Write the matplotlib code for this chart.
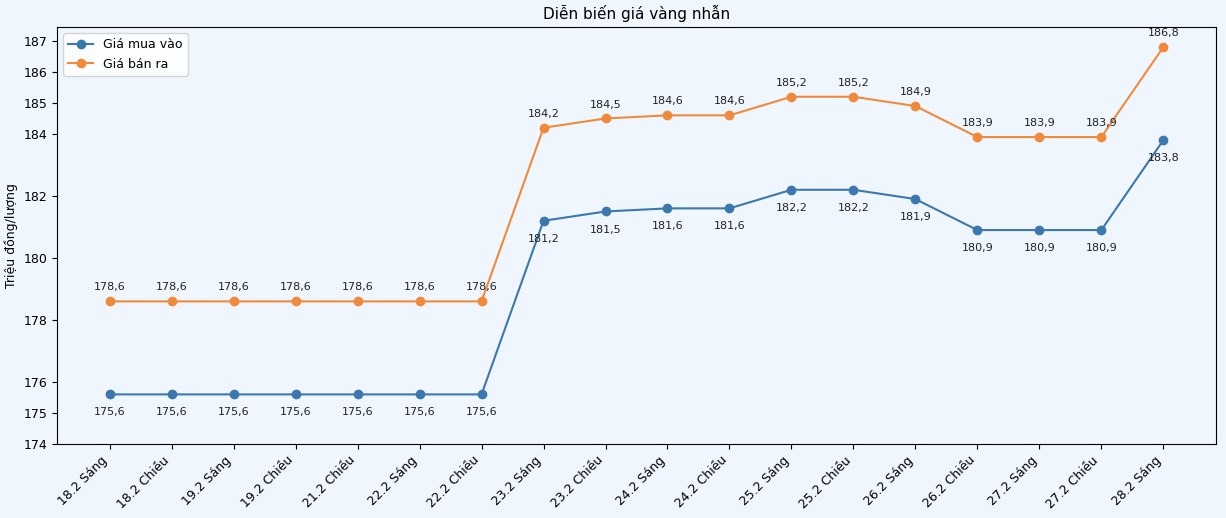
import matplotlib
matplotlib.use("Agg")
import matplotlib.pyplot as plt

categories = ["18.2 Sáng", "18.2 Chiều", "19.2 Sáng", "19.2 Chiều", "21.2 Chiều",
              "22.2 Sáng", "22.2 Chiều", "23.2 Sáng", "23.2 Chiều", "24.2 Sáng",
              "24.2 Chiều", "25.2 Sáng", "25.2 Chiều", "26.2 Sáng", "26.2 Chiều",
              "27.2 Sáng", "27.2 Chiều", "28.2 Sáng"]
buy = [175.6, 175.6, 175.6, 175.6, 175.6, 175.6, 175.6, 181.2, 181.5, 181.6,
       181.6, 182.2, 182.2, 181.9, 180.9, 180.9, 180.9, 183.8]
sell = [178.6, 178.6, 178.6, 178.6, 178.6, 178.6, 178.6, 184.2, 184.5, 184.6,
        184.6, 185.2, 185.2, 184.9, 183.9, 183.9, 183.9, 186.8]
yticks = [174, 175, 176, 178, 180, 182, 184, 185, 186, 187]

bg = "#f0f6fe"
blue = "#3c78b0"
orange = "#f08a3a"

fig = plt.figure(figsize=(12.26, 5.18), dpi=100, facecolor=bg)
ax = fig.add_axes([57/1226, 1 - 444/518, (1216-57)/1226, (444-27)/518])
ax.set_facecolor(bg)

x = list(range(len(categories)))
ax.plot(x, buy, marker="o", color=blue, label="Giá mua vào", markersize=6, linewidth=1.5)
ax.plot(x, sell, marker="o", color=orange, label="Giá bán ra", markersize=6, linewidth=1.5)

for xi, v in zip(x, buy):
    ax.annotate(f"{v:.1f}".replace(".", ","), (xi, v), textcoords="offset points",
                xytext=(0, -13), ha="center", va="center", fontsize=8, color="#222222")
for xi, v in zip(x, sell):
    ax.annotate(f"{v:.1f}".replace(".", ","), (xi, v), textcoords="offset points",
                xytext=(0, 10), ha="center", va="center", fontsize=8, color="#222222")

ax.set_xticks(x)
ax.set_xticklabels(categories, rotation=45, ha="right", fontsize=9)
ax.set_yticks(yticks)
ax.tick_params(axis="y", labelsize=9)
ax.set_ylim(174, 187.45)
ax.set_ylabel("Triệu đồng/lượng", fontsize=9)
ax.set_title("Diễn biến giá vàng nhẫn", fontsize=11)
ax.legend(loc="upper left", fontsize=9)

fig.savefig("out.png", dpi=100, facecolor=bg)
